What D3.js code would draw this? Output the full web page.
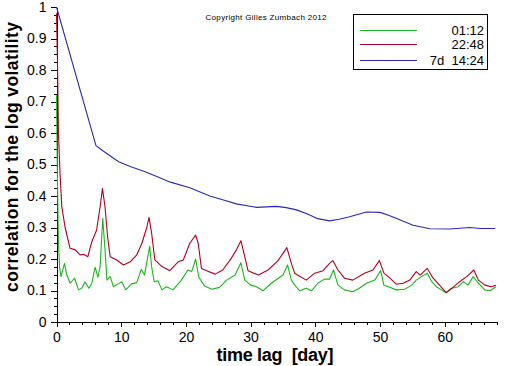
<!DOCTYPE html>
<html><head><meta charset="utf-8">
<script src="https://cdn.jsdelivr.net/npm/d3@7"></script>
<style>html,body{margin:0;padding:0;background:#fff;}svg{display:block;}</style>
</head><body>
<svg id="c" width="512" height="366"></svg>
<script>
// ---- data (day, correlation) ----
const seriesNames = ["01:12", "22:48", "7d  14:24"];
const green01_12 = [[0,0.72],[0.15,0.45],[0.3,0.25],[0.5,0.17],[0.7,0.144],[1.23,0.186],[1.6,0.149],[2.1,0.123],[2.8,0.139],[3.4,0.102],[3.9,0.107],[4.4,0.128],[5.0,0.107],[5.46,0.123],[5.97,0.174],[6.4,0.142],[6.74,0.176],[7.15,0.329],[7.5,0.229],[7.8,0.133],[8.3,0.144],[8.8,0.112],[9.5,0.121],[10.1,0.128],[10.7,0.102],[11.6,0.121],[12.4,0.125],[13.1,0.167],[13.6,0.149],[14.4,0.241],[14.7,0.176],[15.1,0.128],[15.66,0.131],[16.3,0.102],[17.0,0.112],[18.0,0.102],[19.3,0.133],[20.3,0.165],[20.9,0.16],[21.5,0.2],[22.0,0.142],[22.9,0.114],[24.0,0.104],[25.2,0.11],[26.3,0.133],[27.6,0.149],[28.5,0.188],[29.1,0.133],[30.0,0.117],[30.9,0.112],[31.9,0.099],[33.2,0.123],[34.5,0.142],[35.0,0.149],[35.7,0.181],[36.3,0.133],[37.0,0.112],[37.6,0.099],[38.6,0.107],[39.4,0.099],[40.4,0.123],[41.4,0.136],[42.2,0.136],[42.8,0.165],[43.5,0.117],[44.5,0.102],[45.8,0.096],[46.8,0.107],[47.9,0.123],[49.2,0.133],[50.1,0.163],[50.6,0.117],[51.5,0.11],[52.5,0.102],[53.8,0.104],[54.9,0.117],[55.6,0.133],[56.4,0.144],[57.3,0.155],[58.0,0.128],[58.7,0.112],[59.5,0.102],[60.2,0.093],[61.1,0.107],[62.1,0.112],[62.9,0.128],[63.6,0.117],[64.4,0.144],[65.2,0.123],[66.2,0.102],[67.0,0.099],[67.9,0.112]];
const red22_48 = [[0,0.98],[0.15,0.83],[0.3,0.6],[0.55,0.47],[0.82,0.366],[1.33,0.30],[2.1,0.234],[2.9,0.229],[3.65,0.213],[4.2,0.215],[4.84,0.207],[5.46,0.255],[6.2,0.292],[6.74,0.366],[7.1,0.424],[7.5,0.366],[7.9,0.27],[8.3,0.207],[9.3,0.197],[10.35,0.181],[11.4,0.191],[12.4,0.213],[13.2,0.25],[13.95,0.30],[14.3,0.332],[14.7,0.282],[15.2,0.197],[16.3,0.176],[17.5,0.163],[18.8,0.191],[19.6,0.197],[20.6,0.25],[21.5,0.276],[21.9,0.25],[22.4,0.17],[23.2,0.163],[24.5,0.152],[25.7,0.165],[27.0,0.202],[27.8,0.229],[28.5,0.258],[29.1,0.207],[29.6,0.163],[31.2,0.149],[32.7,0.165],[34.2,0.194],[35.0,0.218],[35.6,0.236],[36.3,0.186],[36.8,0.155],[38.6,0.133],[39.9,0.155],[41.2,0.163],[42.2,0.186],[42.7,0.195],[43.5,0.165],[44.5,0.139],[45.8,0.133],[47.6,0.155],[48.9,0.165],[49.9,0.195],[50.6,0.155],[51.5,0.14],[52.5,0.12],[53.6,0.123],[54.6,0.133],[55.6,0.16],[56.2,0.149],[57.3,0.17],[58.2,0.139],[59.2,0.117],[60.2,0.093],[61.1,0.107],[62.3,0.128],[63.4,0.144],[64.5,0.165],[65.2,0.133],[66.2,0.117],[67.2,0.112],[67.9,0.117]];
const blue7d14_24 = [[0,1],[6.1,0.56],[7.0,0.546],[9.1,0.516],[9.6,0.509],[11.5,0.493],[13.7,0.477],[15.5,0.462],[17.6,0.444],[20.6,0.426],[23.7,0.40],[25.8,0.387],[27.8,0.375],[30.9,0.364],[34.0,0.367],[35.5,0.363],[37.1,0.356],[38.8,0.343],[40.2,0.329],[42.2,0.321],[43.7,0.326],[45.3,0.334],[47.9,0.349],[50.0,0.348],[51.3,0.339],[52.5,0.329],[55.1,0.307],[57.7,0.296],[60.8,0.295],[63.9,0.30],[65.5,0.297],[67.8,0.297]];
const xMajorTicks = [0,10,20,30,40,50,60];
const yMajorTicks = [0,0.1,0.2,0.3,0.4,0.5,0.6,0.7,0.8,0.9,1];
const xLabel = "time lag  [day]";
const yLabel = "correlation for the log volatility";
const copyright = "Copyright Gilles Zumbach 2012";

// ---- drawing ----
const colors = ["#1fb41f", "#b0001e", "#2a2ab4"];
const allSeries = [green01_12, red22_48, blue7d14_24];
const svg = d3.select("#c");
const font = "'Liberation Sans', Arial, sans-serif";
const x = d3.scaleLinear().domain([0, 68]).range([56.5, 496.5]);
const y = d3.scaleLinear().domain([0, 1]).range([322, 7]);

const xMinor = d3.range(0, 68.01, 2).filter(v => v % 10 !== 0);
const yMinor = d3.range(0, 1.0001, 0.025).filter(v => Math.abs(v*10 - Math.round(v*10)) > 1e-6);

// x axis
const gx = svg.append("g").attr("transform", "translate(0,322)");
gx.call(d3.axisBottom(x).tickValues(xMinor).tickSize(3).tickFormat("")).call(g => g.select(".domain").remove());
gx.append("g").call(d3.axisBottom(x).tickValues(xMajorTicks).tickSize(5).tickPadding(5).tickFormat(d3.format("d")).tickSizeOuter(0));
gx.selectAll("text").attr("font-family", font).attr("font-size", 14).attr("fill", "#000");
gx.selectAll("line,path").attr("stroke", "#000").attr("shape-rendering", "crispEdges");

// y axis
const gy = svg.append("g").attr("transform", "translate(56.5,0)");
gy.call(d3.axisLeft(y).tickValues(yMinor).tickSize(3).tickFormat("")).call(g => g.select(".domain").remove());
gy.append("g").call(d3.axisLeft(y).tickValues(yMajorTicks).tickSize(6).tickPadding(4).tickFormat(d => d === 0 ? "0" : d === 1 ? "1" : d3.format(".1f")(d)).tickSizeOuter(0));
gy.selectAll("text").attr("font-family", font).attr("font-size", 14).attr("fill", "#000");
gy.selectAll("line,path").attr("stroke", "#000").attr("shape-rendering", "crispEdges");
svg.append("line").attr("x1", 56.5).attr("x2", 496.5).attr("y1", 322.5).attr("y2", 322.5).attr("stroke", "#000");

// lines
const line = d3.line().x(d => x(d[0])).y(d => y(d[1]));
allSeries.forEach((s, i) => {
  svg.append("path").datum(s).attr("d", line).attr("fill", "none")
    .attr("stroke", colors[i]).attr("stroke-width", 1.1).attr("stroke-linejoin", "round");
});

// axis titles
svg.append("text").attr("x", 275).attr("y", 361).attr("text-anchor", "middle")
  .attr("font-family", font).attr("font-weight", "bold").attr("font-size", 18)
  .style("white-space", "pre").attr("textLength", 117).text(xLabel);
svg.append("text").attr("transform", "translate(17.5,157) rotate(-90)").attr("text-anchor", "middle")
  .attr("font-family", font).attr("font-weight", "bold").attr("font-size", 17.5)
  .attr("textLength", 270).text(yLabel);

// copyright
svg.append("text").attr("x", 266).attr("y", 19.5).attr("text-anchor", "middle")
  .attr("font-family", font).attr("font-size", 8).attr("textLength", 121).text(copyright);

// legend
svg.append("rect").attr("x", 353.5).attr("y", 14.5).attr("width", 134).attr("height", 55)
  .attr("fill", "#fff").attr("stroke", "#000").attr("shape-rendering", "crispEdges");
const legY = [30.5, 44.5, 60.5];
seriesNames.forEach((n, i) => {
  svg.append("line").attr("x1", 360).attr("x2", 417).attr("y1", legY[i]).attr("y2", legY[i])
    .attr("stroke", colors[i]).attr("stroke-width", 1).attr("shape-rendering", "crispEdges");
  svg.append("text").attr("x", 484).attr("y", legY[i] + 4.5).attr("text-anchor", "end")
    .attr("font-family", font).attr("font-size", 13).style("white-space", "pre").text(n);
});
</script>
</body></html>
